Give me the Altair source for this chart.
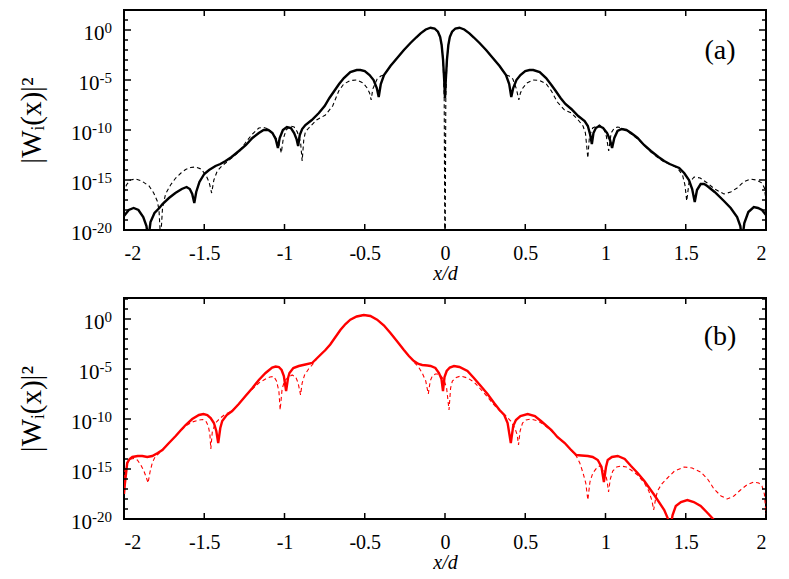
import altair as alt
import pandas as pd

# ---------------- data (x/d, log10 |W|^2) ----------------
a_solid_x = [-2.0, -1.97, -1.94, -1.91, -1.88, -1.86, -1.849, -1.835, -1.81, -1.78, -1.76, -1.72, -1.68, -1.64,
             -1.61, -1.59, -1.575, -1.562, -1.55, -1.53, -1.5, -1.47, -1.43, -1.4, -1.367, -1.33, -1.284, -1.24,
             -1.2, -1.16, -1.13, -1.1, -1.075, -1.055, -1.041, -1.03, -1.01, -0.985, -0.96, -0.94, -0.925, -0.915,
             -0.905, -0.89, -0.87, -0.83, -0.786, -0.75, -0.72, -0.69, -0.66, -0.63, -0.59, -0.55, -0.527, -0.5,
             -0.47, -0.445, -0.425, -0.413, -0.4, -0.38, -0.34, -0.298, -0.256, -0.215, -0.18, -0.152, -0.12,
             -0.09, -0.065, -0.044, -0.03, -0.021, -0.012, -0.005, 0.0, 0.005, 0.012, 0.021, 0.03, 0.044, 0.065,
             0.09, 0.12, 0.152, 0.18, 0.215, 0.256, 0.298, 0.34, 0.38, 0.4, 0.413, 0.425, 0.445, 0.47, 0.5, 0.527,
             0.55, 0.59, 0.63, 0.663, 0.69, 0.72, 0.75, 0.787, 0.83, 0.87, 0.89, 0.905, 0.915, 0.925, 0.94, 0.96,
             0.985, 1.01, 1.028, 1.041, 1.055, 1.075, 1.1, 1.13, 1.16, 1.2, 1.24, 1.283, 1.33, 1.366, 1.4, 1.43,
             1.459, 1.49, 1.52, 1.54, 1.556, 1.57, 1.593, 1.615, 1.634, 1.68, 1.738, 1.78, 1.82, 1.84, 1.851,
             1.865, 1.89, 1.924, 1.95, 1.975, 2.0]
a_solid_e = [-18.6, -18.0, -17.8, -18.0, -18.7, -19.6, -21.0, -19.2, -18.3, -17.8, -17.4, -16.8, -16.3, -15.9,
             -15.7, -15.9, -16.4, -17.3, -16.2, -15.2, -14.4, -14.0, -13.6, -13.4, -13.1, -12.7, -12.1, -11.5,
             -10.8, -10.3, -10.0, -10.0, -10.3, -10.9, -11.8, -10.8, -10.0, -9.7, -9.8, -10.3, -10.9, -11.6,
             -10.5, -9.9, -9.5, -9.0, -8.3, -7.6, -6.8, -6.1, -5.4, -4.8, -4.2, -4.0, -4.0, -4.1,
             -4.5, -5.0, -5.8, -6.7, -5.4, -4.5, -3.6, -2.8, -2.0, -1.3, -0.75, -0.33, 0.05,
             0.23, 0.15, -0.17, -0.7, -1.5, -3.0, -5.0, -6.8, -5.0, -3.0, -1.5, -0.7, -0.17, 0.15,
             0.23, 0.05, -0.33, -0.75, -1.3, -2.0, -2.8, -3.6, -4.5, -5.4, -6.7, -5.8, -5.0, -4.5, -4.1, -4.0,
             -4.0, -4.2, -4.8, -5.5, -6.1, -6.8, -7.4, -7.9, -8.6, -9.1, -9.6, -10.5, -11.4, -10.3, -9.8, -9.6,
             -9.8, -10.3, -11.0, -11.8, -10.8, -10.1, -9.9, -10.0, -10.3, -10.8, -11.5, -12.1, -12.7, -13.1, -13.4, -13.6,
             -13.8, -14.3, -15.0, -15.9, -17.2, -16.0, -15.4, -15.4, -15.6, -16.2, -17.1, -17.8, -18.7, -19.6, -21.0,
             -19.3, -18.2, -17.7, -17.8, -18.0, -18.5]

a_dash_x = [-2.0, -1.985, -1.96, -1.927, -1.89, -1.844, -1.815, -1.793, -1.782, -1.772, -1.76, -1.741, -1.71,
            -1.678, -1.645, -1.616, -1.585, -1.554, -1.52, -1.49, -1.47, -1.454, -1.44, -1.419, -1.39, -1.367,
            -1.33, -1.284, -1.24, -1.2, -1.16, -1.13, -1.1, -1.075, -1.05, -1.03, -1.02, -1.008, -0.99, -0.963,
            -0.94, -0.92, -0.9, -0.89, -0.88, -0.87, -0.849, -0.8, -0.745, -0.7, -0.662, -0.631, -0.59, -0.548,
            -0.51, -0.485, -0.47, -0.46, -0.45, -0.423, -0.4, -0.38, -0.34, -0.298, -0.256, -0.215, -0.18,
            -0.152, -0.12, -0.09, -0.065, -0.044, -0.03, -0.021, -0.012, -0.005, -0.001, 0.001, 0.005, 0.012,
            0.021, 0.03, 0.044, 0.065, 0.09, 0.12, 0.152, 0.18, 0.215, 0.256, 0.298, 0.34, 0.38, 0.4, 0.423,
            0.445, 0.46, 0.47, 0.485, 0.51, 0.548, 0.59, 0.631, 0.663, 0.7, 0.745, 0.787, 0.83, 0.86, 0.875,
            0.89, 0.9, 0.92, 0.963, 0.99, 1.005, 1.02, 1.035, 1.055, 1.076, 1.1, 1.16, 1.2, 1.24, 1.283, 1.33,
            1.366, 1.4, 1.448, 1.48, 1.495, 1.506, 1.52, 1.552, 1.59, 1.634, 1.68, 1.738, 1.78, 1.82, 1.86,
            1.903, 1.94, 1.975, 1.99, 2.0]
a_dash_e = [-16.3, -15.5, -15.0, -14.9, -15.1, -15.6, -16.3, -17.1, -18.0, -21.0, -17.8, -16.4, -15.5,
            -14.8, -14.3, -13.95, -13.75, -13.7, -13.9, -14.5, -15.2, -16.3, -15.0, -14.1, -13.6, -13.3,
            -12.8, -12.2, -11.2, -10.4, -9.8, -9.75, -9.9, -10.3, -10.9, -11.6, -12.3, -10.9, -10.0, -9.6,
            -9.7, -10.2, -11.2, -13.1, -11.0, -10.2, -9.8, -9.0, -8.5, -7.6, -6.1, -5.4, -5.05, -5.0,
            -5.3, -5.8, -6.3, -7.0, -5.9, -4.9, -4.6, -4.5, -3.6, -2.8, -2.0, -1.3, -0.75,
            -0.33, 0.05, 0.23, 0.15, -0.17, -0.7, -1.5, -3.0, -6.8, -22.0, -22.0, -6.8, -3.0,
            -1.5, -0.7, -0.17, 0.15, 0.23, 0.05, -0.33, -0.75, -1.3, -2.0, -2.8, -3.6, -4.5, -4.6, -4.9,
            -5.9, -7.0, -6.3, -5.8, -5.3, -5.0, -5.05, -5.4, -6.1, -7.2, -8.0, -8.3, -9.0, -9.6, -10.3,
            -12.8, -10.6, -9.8, -9.5, -9.9, -10.6, -12.1, -10.3, -9.8, -9.7, -9.8, -10.4, -10.9, -11.5, -12.2, -12.8,
            -13.2, -13.4, -13.8, -14.5, -15.5, -17.1, -15.3, -14.7, -14.8, -15.3, -15.9, -16.4, -16.2, -15.8, -15.2,
            -14.9, -15.0, -15.3, -15.8, -17.0]

b_solid_x = [-2.0, -1.994, -1.98, -1.965, -1.948, -1.915, -1.886, -1.855, -1.824, -1.79, -1.761, -1.72, -1.678,
             -1.645, -1.616, -1.575, -1.533, -1.505, -1.481, -1.46, -1.44, -1.425, -1.413, -1.4, -1.388, -1.36,
             -1.326, -1.285, -1.243, -1.2, -1.16, -1.118, -1.077, -1.055, -1.035, -1.018, -1.004, -0.99, -0.978,
             -0.969, -0.945, -0.911, -0.87, -0.828, -0.79, -0.745, -0.715, -0.652, -0.62, -0.59, -0.55, -0.506,
             -0.465, -0.423, -0.38, -0.34, -0.3, -0.256, -0.225, -0.194, -0.165, -0.142, -0.11, -0.09, -0.06,
             -0.0375, -0.022, -0.0125, -0.003, 0.0104, 0.03, 0.056, 0.09, 0.14, 0.18, 0.223, 0.265, 0.306, 0.34,
             0.369, 0.39, 0.41, 0.425, 0.442, 0.47, 0.515, 0.56, 0.598, 0.663, 0.7, 0.746, 0.78, 0.818, 0.85,
             0.89, 0.92, 0.952, 0.975, 0.99, 1.003, 1.014, 1.04, 1.076, 1.12, 1.159, 1.2, 1.242, 1.304, 1.366,
             1.39, 1.403, 1.418, 1.438, 1.47, 1.51, 1.55, 1.593, 1.63, 1.665, 1.7, 1.72]
b_solid_e = [-17.5, -16.4, -14.4, -14.0, -13.8, -13.7, -13.7, -13.8, -13.7, -13.4, -13.1, -12.4, -11.7,
             -11.1, -10.6, -10.0, -9.6, -9.5, -9.6, -9.9, -10.4, -11.2, -12.4, -10.9, -10.2, -9.6,
             -9.2, -8.5, -7.7, -6.9, -6.1, -5.4, -4.85, -4.75, -4.8, -5.1, -5.7, -7.2, -5.9,
             -5.4, -4.9, -4.7, -4.55, -4.4, -3.8, -3.1, -2.55, -1.1, -0.5, -0.07, 0.25, 0.4,
             0.3, -0.07, -0.65, -1.4, -2.2, -3.1, -3.7, -4.2, -4.5, -4.6, -4.65, -4.7, -4.9,
             -5.4, -6.0, -7.2, -5.8, -5.2, -4.85, -4.7, -4.8, -5.2, -5.9, -6.7, -7.5, -8.4, -9.1,
             -9.6, -10.4, -12.4, -10.7, -10.1, -9.7, -9.5, -9.7, -10.2, -11.1, -11.8, -12.4, -13.0, -13.6, -13.65,
             -13.7, -13.8, -14.1, -14.8, -16.3, -14.8, -14.1, -13.8, -13.7, -14.0, -14.7, -15.4, -16.2, -17.6, -19.1,
             -20.0, -21.0, -19.6, -18.7, -18.3, -18.1, -18.3, -18.7, -19.3, -19.9, -20.6, -21.0]

b_dash_x = [-2.0, -1.994, -1.975, -1.958, -1.935, -1.917, -1.895, -1.876, -1.862, -1.85, -1.838, -1.824, -1.81,
            -1.793, -1.761, -1.72, -1.678, -1.645, -1.616, -1.575, -1.533, -1.51, -1.49, -1.475, -1.465, -1.459,
            -1.45, -1.43, -1.4, -1.367, -1.326, -1.285, -1.243, -1.2, -1.16, -1.118, -1.09, -1.066, -1.05,
            -1.035, -1.027, -1.015, -1.0, -0.975, -0.952, -0.93, -0.915, -0.9, -0.89, -0.875, -0.85, -0.828,
            -0.79, -0.745, -0.715, -0.652, -0.62, -0.59, -0.55, -0.506, -0.465, -0.423, -0.38, -0.34, -0.3,
            -0.256, -0.225, -0.194, -0.165, -0.142, -0.12, -0.104, -0.092, -0.079, -0.06, -0.048, -0.025,
            -0.006, 0.01, 0.025, 0.035, 0.046, 0.07, 0.098, 0.14, 0.181, 0.215, 0.244, 0.28, 0.306, 0.348,
            0.38, 0.41, 0.435, 0.45, 0.458, 0.468, 0.483, 0.505, 0.535, 0.58, 0.619, 0.663, 0.7, 0.746, 0.78,
            0.818, 0.84, 0.86, 0.877, 0.89, 0.903, 0.921, 0.945, 0.963, 0.985, 0.998, 1.01, 1.019, 1.03, 1.045,
            1.07, 1.097, 1.13, 1.159, 1.2, 1.242, 1.27, 1.29, 1.3, 1.312, 1.324, 1.35, 1.386, 1.43, 1.49, 1.54,
            1.593, 1.636, 1.676, 1.72, 1.758, 1.8, 1.841, 1.88, 1.924, 1.955, 1.975, 1.99, 2.0]
b_dash_e = [-16.0, -15.1, -14.3, -14.0, -13.95, -14.1, -14.6, -15.2, -15.8, -16.4, -15.3, -14.4, -13.9,
            -13.6, -13.1, -12.4, -11.7, -11.15, -10.7, -10.3, -10.1, -10.05, -10.2, -10.7, -11.5, -13.0,
            -11.3, -10.4, -9.9, -9.5, -9.2, -8.5, -7.7, -7.0, -6.4, -6.0, -5.8, -5.75, -6.2,
            -7.2, -9.1, -7.0, -6.2, -5.8, -5.6, -5.8, -6.4, -7.6, -6.4, -5.6, -5.0, -4.6,
            -3.8, -3.1, -2.55, -1.1, -0.5, -0.07, 0.25, 0.4, 0.3, -0.07, -0.65, -1.4, -2.2,
            -3.1, -3.7, -4.3, -4.8, -5.4, -6.2, -7.5, -6.2, -5.7, -5.5, -5.5, -5.7,
            -6.1, -6.9, -9.1, -6.9, -6.2, -5.85, -5.7, -5.9, -6.3, -6.9, -7.4, -8.1, -8.6, -9.3,
            -9.7, -10.2, -10.9, -11.6, -12.6, -11.2, -10.4, -10.1, -10.0, -10.2, -10.6, -11.2, -11.8, -12.4, -13.0,
            -13.7, -14.4, -15.4, -16.4, -18.1, -16.3, -15.4, -14.9, -14.7, -15.0, -15.4, -16.2, -17.3, -16.0, -15.2,
            -14.8, -14.7, -14.8, -15.1, -15.6, -16.4, -17.2, -18.2, -19.1, -18.0, -17.2, -16.5, -15.9, -15.2, -14.8, -14.9,
            -15.3, -16.0, -17.0, -17.7, -18.0, -17.7, -17.1, -16.6, -16.3, -16.4, -16.7, -17.5, -19.5]

x_ticks = [-2, -1.5, -1, -0.5, 0, 0.5, 1, 1.5, 2]
y_major = [-20, -15, -10, -5, 0]
y_exponents = ["-20", "-15", "-10", "-5", "0"]

FONT = "Liberation Serif"
W = 642


def panel(sx, se, dx, de, color, ymax, tag, tag_y, H):
    xs = alt.Scale(domain=[-2, 2], nice=False, zero=False)
    ys = alt.Scale(domain=[-20, ymax], nice=False, zero=False)
    x_enc = alt.X("x:Q", scale=xs, axis=alt.Axis(
        values=x_ticks, labelExpr="toString(datum.value)", ticks=False, tickSize=0, domain=False, grid=False,
        labelFont=FONT, labelFontSize=20, labelPadding=13, labelColor="black",
        title="x/d", titleFont=FONT, titleFontSize=20, titleFontStyle="italic", titleFontWeight="normal",
        titlePadding=0, titleColor="black"))
    y_enc = alt.Y("e:Q", scale=ys, axis=alt.Axis(
        values=y_major, labels=False, ticks=False, tickSize=0, domain=False, grid=False,
        title="|Wᵢ(x)|²", titleFont=FONT, titleFontSize=29, titleFontWeight="normal", titleColor="black",
        titleAngle=270, titleX=-93, titleY=H / 2, titleAlign="center", titleBaseline="middle"))

    dashed = alt.Chart(pd.DataFrame({"x": dx, "e": de})).mark_line(
        color=color, strokeWidth=1.1, strokeDash=[4, 3], clip=True).encode(x=x_enc, y=y_enc)
    solid = alt.Chart(pd.DataFrame({"x": sx, "e": se})).mark_line(
        color=color, strokeWidth=2.4, clip=True).encode(x=x_enc, y=y_enc)

    major = pd.DataFrame({"e": y_major})
    minor = pd.DataFrame({"e": [v for v in range(-19, int(ymax) + 1) if v % 5 != 0]})
    xt = pd.DataFrame({"x": x_ticks[1:-1]})
    lab = pd.DataFrame({"e": y_major, "base": ["10"] * len(y_major), "exp": y_exponents})
    tick = dict(color="black", strokeWidth=1.5)

    exp_text = alt.Chart(lab).mark_text(
        font=FONT, fontSize=15, color="black", align="right", baseline="alphabetic", dy=3
    ).encode(y=y_enc, x=alt.value(-12), text="exp:N")

    def base_text(nchar, width):
        return alt.Chart(lab).transform_filter(f"length(datum.exp) == {nchar}").mark_text(
            font=FONT, fontSize=21, color="black", align="right", baseline="alphabetic", dy=10
        ).encode(y=y_enc, x=alt.value(-12 - width), text="base:N")

    layers = [
        dashed, solid,
        alt.Chart(major).mark_rule(**tick).encode(y=y_enc, x=alt.value(0), x2=alt.value(7)),
        alt.Chart(major).mark_rule(**tick).encode(y=y_enc, x=alt.value(W - 7), x2=alt.value(W)),
        alt.Chart(minor).mark_rule(**tick).encode(y=y_enc, x=alt.value(0), x2=alt.value(4)),
        alt.Chart(minor).mark_rule(**tick).encode(y=y_enc, x=alt.value(W - 4), x2=alt.value(W)),
        alt.Chart(xt).mark_rule(**tick).encode(x=x_enc, y=alt.value(H), y2=alt.value(H - 6)),
        alt.Chart(xt).mark_rule(**tick).encode(x=x_enc, y=alt.value(0), y2=alt.value(6)),
        exp_text,
        base_text(1, 7.5),
        base_text(2, 12.5),
        base_text(3, 20),
        alt.Chart(pd.DataFrame({"t": [tag]})).mark_text(
            font=FONT, fontSize=28, color="black", align="center", baseline="middle").encode(
            text="t:N", x=alt.value(596), y=alt.value(tag_y)),
    ]
    return alt.layer(*layers).properties(width=W, height=H)


pa = panel(a_solid_x, a_solid_e, a_dash_x, a_dash_e, "black", 2.0, "(a)", 41, 220)
pb = panel(b_solid_x, b_solid_e, b_dash_x, b_dash_e, "#ff0000", 2.1, "(b)", 39, 221)

chart = alt.vconcat(pa, pb, spacing=12).properties(
    padding={"left": 8, "top": 0, "right": 5, "bottom": 0}, background="white"
).configure_view(stroke="black", strokeWidth=2)

chart.save("out.html", embed_options={"renderer": "svg", "actions": False})
